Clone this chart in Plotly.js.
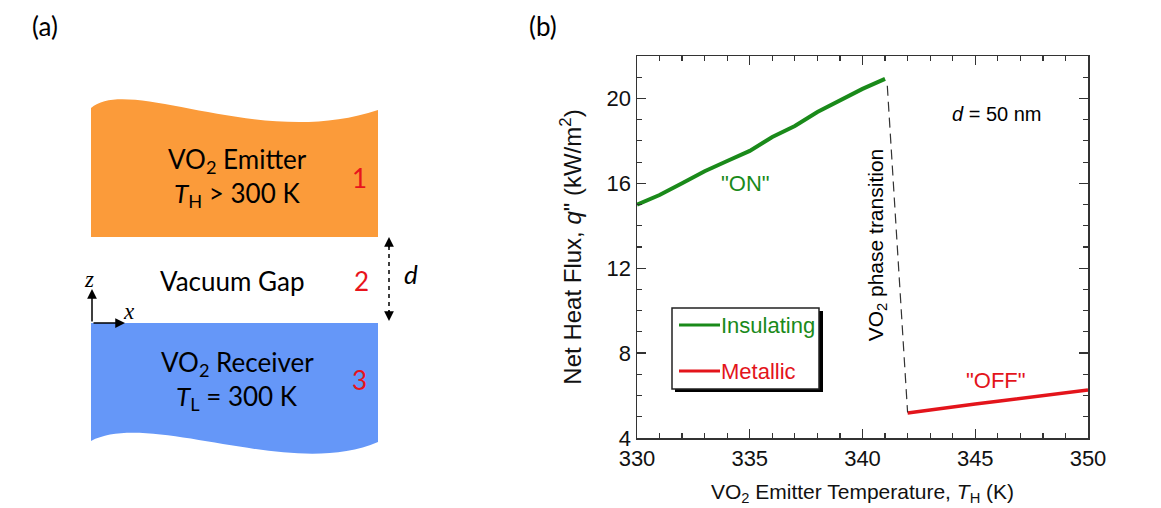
<!DOCTYPE html>
<html>
<head>
<meta charset="utf-8">
<script src="https://cdn.plot.ly/plotly-3.0.1.min.js"></script>
<style>html,body{margin:0;padding:0;background:#fff;}#chart{width:1161px;height:508px;}</style>
</head>
<body>
<div id="chart"></div>
<script>
// ---- data (panel b) ----
const tempInsulating = [330, 331, 332, 333, 334, 335, 336, 337, 338, 339, 340, 341];
const fluxInsulating = [15.0, 15.45, 16.0, 16.57, 17.05, 17.53, 18.18, 18.7, 19.36, 19.9, 20.45, 20.92];
const tempMetallic = [342, 343, 344, 345, 346, 347, 348, 349, 350];
const fluxMetallic = [5.18, 5.33, 5.47, 5.6, 5.73, 5.86, 5.99, 6.12, 6.26];
const tempTransition = [341.1, 342.0];
const fluxTransition = [20.6, 5.2];
const xTickVals = [330, 335, 340, 345, 350];
const yTickVals = [4, 8, 12, 16, 20];
const seriesNames = ["Insulating", "Metallic"];

const W = 1161, H = 508;
const X = p => p / W, Y = p => 1 - p / H;
const GREEN = "#1a8a1a", RED = "#e3141b";
const SANS = "Liberation Sans, Arial, sans-serif";
const CAL = "Lato, Open Sans, sans-serif";

const traces = [
  {x: tempInsulating, y: fluxInsulating, mode: "lines", name: seriesNames[0], showlegend: false,
   line: {color: GREEN, width: 4}},
  {x: tempMetallic, y: fluxMetallic, mode: "lines", name: seriesNames[1], showlegend: false,
   line: {color: RED, width: 3.5}},
  {x: tempTransition, y: fluxTransition, mode: "lines", name: "transition", showlegend: false,
   line: {color: "#333", width: 1.2, dash: "10px,6px"}}
];

const orangePath = `M ${X(91)},${Y(108)} C ${X(130)},${Y(75)} ${X(260)},${Y(150)} ${X(378)},${Y(110)} L ${X(378)},${Y(237)} L ${X(91)},${Y(237)} Z`;
const bluePath = `M ${X(91)},${Y(323)} L ${X(378)},${Y(323)} L ${X(378)},${Y(442)} C ${X(290)},${Y(480)} ${X(150)},${Y(410)} ${X(91)},${Y(441)} Z`;

const shapes = [
  {type: "path", xref: "paper", yref: "paper", path: orangePath, fillcolor: "#fb9b3a", line: {width: 0}},
  {type: "path", xref: "paper", yref: "paper", path: bluePath, fillcolor: "#6597f8", line: {width: 0}},
  {type: "line", xref: "paper", yref: "paper", x0: X(389), x1: X(389), y0: Y(246), y1: Y(312),
   line: {color: "#000", width: 1.5, dash: "4px,4px"}},
  // legend box with shadow
  {type: "rect", xref: "paper", yref: "paper", x0: X(675), x1: X(823), y0: Y(311), y1: Y(392),
   fillcolor: "#000", line: {width: 0}, layer: "above"},
  {type: "rect", xref: "paper", yref: "paper", x0: X(672), x1: X(819), y0: Y(308), y1: Y(389),
   fillcolor: "#fff", line: {color: "#222", width: 1.5}, layer: "above"},
  {type: "line", xref: "paper", yref: "paper", x0: X(679), x1: X(720), y0: Y(325), y1: Y(325),
   line: {color: GREEN, width: 3}, layer: "above"},
  {type: "line", xref: "paper", yref: "paper", x0: X(679), x1: X(720), y0: Y(371), y1: Y(371),
   line: {color: RED, width: 3}, layer: "above"}
];

function txt(x, y, text, size, color, family, extra) {
  return Object.assign({xref: "paper", yref: "paper", x: X(x), y: Y(y), text: text, showarrow: false,
    xanchor: "center", yanchor: "middle", font: {size: size, color: color || "#000", family: family || CAL}}, extra || {});
}
function arrow(x, y, ax, ay) {
  return {xref: "paper", yref: "paper", x: X(x), y: Y(y), ax: ax, ay: ay, text: "", showarrow: true,
    arrowhead: 2, arrowsize: 1.3, arrowwidth: 1.5, arrowcolor: "#000"};
}
function dtxt(x, y, text, size, color, extra) {
  return Object.assign({xref: "x", yref: "y", x: x, y: y, text: text, showarrow: false,
    xanchor: "center", yanchor: "middle", font: {size: size, color: color || "#000", family: SANS}}, extra || {});
}

const annotations = [
  txt(45, 26, "(a)", 26, "#000"),
  txt(543, 26, "(b)", 26, "#000"),
  txt(237, 160, "VO<sub>2</sub> Emitter", 26),
  txt(237, 194, "<i>T</i><sub>H</sub> &gt; 300 K", 26),
  txt(359, 178, "1", 26, "#e8141c"),
  txt(232, 281, "Vacuum Gap", 26),
  txt(361, 281, "2", 26, "#e8141c"),
  txt(411, 274, "<i>d</i>", 26),
  txt(237, 363, "VO<sub>2</sub> Receiver", 26),
  txt(237, 397, "<i>T</i><sub>L</sub> = 300 K", 26),
  txt(359, 380, "3", 26, "#e8141c"),
  txt(89, 279, "<i>z</i>", 23, "#000", "Liberation Serif, serif"),
  txt(129, 311, "<i>x</i>", 23, "#000", "Liberation Serif, serif"),
  arrow(92, 289, 0, 34),
  arrow(125, 323, -33, 0),
  arrow(389, 237, 0, 12),
  arrow(389, 321, 0, -12),
  dtxt(334.8, 16.0, '"ON"', 22, GREEN),
  dtxt(345.9, 6.7, '"OFF"', 22, RED),
  dtxt(345.95, 19.25, "<i>d</i> = 50 nm", 20, "#000"),
  dtxt(340.62, 13.1, "VO<sub>2</sub> phase transition", 21, "#000", {textangle: -90}),
  // legend entries
  txt(719, 325, seriesNames[0], 22, GREEN, SANS, {xanchor: "left"}),
  txt(719, 371, seriesNames[1], 22, RED, SANS, {xanchor: "left"})
];

function axisBase() {
  return {
    tickmode: "linear",
    ticks: "inside", ticklen: 9, tickwidth: 1.3, tickcolor: "#333",
    showline: true, linecolor: "#333", linewidth: 1.5, mirror: "ticks",
    showgrid: false, zeroline: false,
    minor: {dtick: 1, ticks: "inside", ticklen: 5, tickwidth: 1.2, tickcolor: "#333", showgrid: false},
    tickfont: {family: SANS, size: 22, color: "#111"}
  };
}

const layout = {
  width: W, height: H,
  margin: {l: 0, r: 0, t: 0, b: 0},
  paper_bgcolor: "#fff", plot_bgcolor: "#fff",
  showlegend: false,
  xaxis: Object.assign(axisBase(), {
    domain: [X(637), X(1088)], range: [330, 350],
    tick0: xTickVals[0], dtick: xTickVals[1] - xTickVals[0],
    title: {text: "VO<sub>2</sub> Emitter Temperature, <i>T</i><sub>H</sub> (K)", standoff: 14,
      font: {family: SANS, size: 21, color: "#111"}}
  }),
  yaxis: Object.assign(axisBase(), {
    domain: [1 - 438 / H, 1 - 56 / H], range: [4, 22],
    tick0: yTickVals[0], dtick: yTickVals[1] - yTickVals[0],
    title: {text: 'Net Heat Flux, <i>q</i>" (kW/m<sup>2</sup>)', standoff: 18,
      font: {family: SANS, size: 24, color: "#111"}}
  }),
  shapes: shapes,
  annotations: annotations
};

Plotly.newPlot("chart", traces, layout, {displayModeBar: false, staticPlot: true}).then(gd => {
  // bring the axis tick marks (drawn by Plotly) to the top of the drawing order
  const svg = gd.querySelector("svg.main-svg");
  if (!svg) return;
  const g = document.createElementNS("http://www.w3.org/2000/svg", "g");
  g.setAttribute("class", "ticks-front");
  gd.querySelectorAll("path.xtick, path.ytick").forEach(p => {
    const c = p.cloneNode(true);
    const m = p.getCTM && p.getCTM();
    if (m) c.setAttribute("transform", `matrix(${m.a},${m.b},${m.c},${m.d},${m.e},${m.f})`);
    c.setAttribute("style", "stroke:#333;stroke-opacity:1;fill:none;stroke-width:" + (p.style.strokeWidth || "1.2px"));
    g.appendChild(c);
  });
  svg.appendChild(g);
});
</script>
</body>
</html>
